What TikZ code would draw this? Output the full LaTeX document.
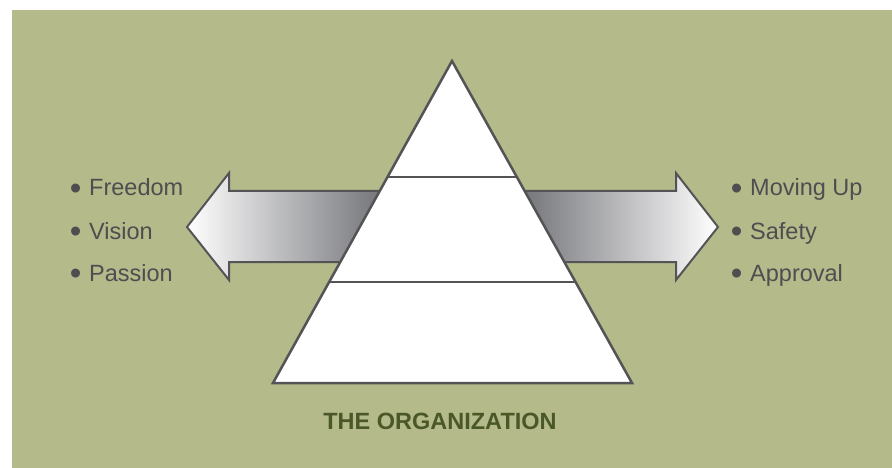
\documentclass[tikz,border=0pt]{standalone}
\usepackage{fontspec}
\setmainfont{Liberation Sans}
\usetikzlibrary{positioning,calc}
\definecolor{bggreen}{HTML}{B4BA8A}
\definecolor{linegray}{HTML}{545456}
\definecolor{textgray}{HTML}{4E4E50}
\definecolor{arrowgray}{HTML}{67686D}
\definecolor{titlegreen}{HTML}{4A5829}
\newcommand{\listdot}{\raisebox{-3.5pt}{\fontsize{33}{33}\selectfont\textbullet}\hspace{7.75pt}}
\tikzset{
  item/.style={anchor=base west,inner sep=0pt,text=textgray,font=\fontsize{23.5}{28}\selectfont},
  outline/.style={draw=linegray,line width=2pt,line join=miter},
  title/.style={anchor=base,inner sep=0pt,text=titlegreen,font=\fontsize{23.5}{28}\selectfont\bfseries}
}
\begin{document}
\begin{tikzpicture}[x=1pt,y=-1pt]
\useasboundingbox (0,0) rectangle (892,468);
\fill[bggreen] (12,10) rectangle (892,468);

% arrows behind the pyramid
\draw[outline,left color=white,right color=arrowgray]
  (400,191) -- (229,191) -- (229,173) -- (187,227) -- (229,280) -- (229,262) -- (400,262) -- cycle;
\draw[outline,left color=arrowgray,right color=white]
  (504,191) -- (676,191) -- (676,173) -- (718,227) -- (676,280) -- (676,262) -- (504,262) -- cycle;

% pyramid
\coordinate (top) at (452,61);
\coordinate (bl) at (273,383);
\coordinate (br) at (632,383);
\draw[outline,line width=2.5pt,fill=white] (top) -- (br) -- (bl) -- cycle;
\coordinate (l1) at ($(top)!0.36!(bl)$);
\coordinate (r1) at ($(top)!0.36!(br)$);
\coordinate (l2) at ($(top)!0.686!(bl)$);
\coordinate (r2) at ($(top)!0.686!(br)$);
\draw[outline] (l1) -- (r1);
\draw[outline] (l2) -- (r2);

\node[title] (org) at (440,429) {THE ORGANIZATION};

% left list
\node[item] (freedom) at (69.7,196) {\listdot Freedom};
\node[item] (vision) at (69.7,239) {\listdot Vision};
\node[item] (passion) at (69.7,281) {\listdot Passion};

% right list
\node[item] (movingup) at (730.7,196) {\listdot Moving Up};
\node[item] (safety) at (730.7,239) {\listdot Safety};
\node[item] (approval) at (730.7,281) {\listdot Approval};
\end{tikzpicture}
\end{document}
